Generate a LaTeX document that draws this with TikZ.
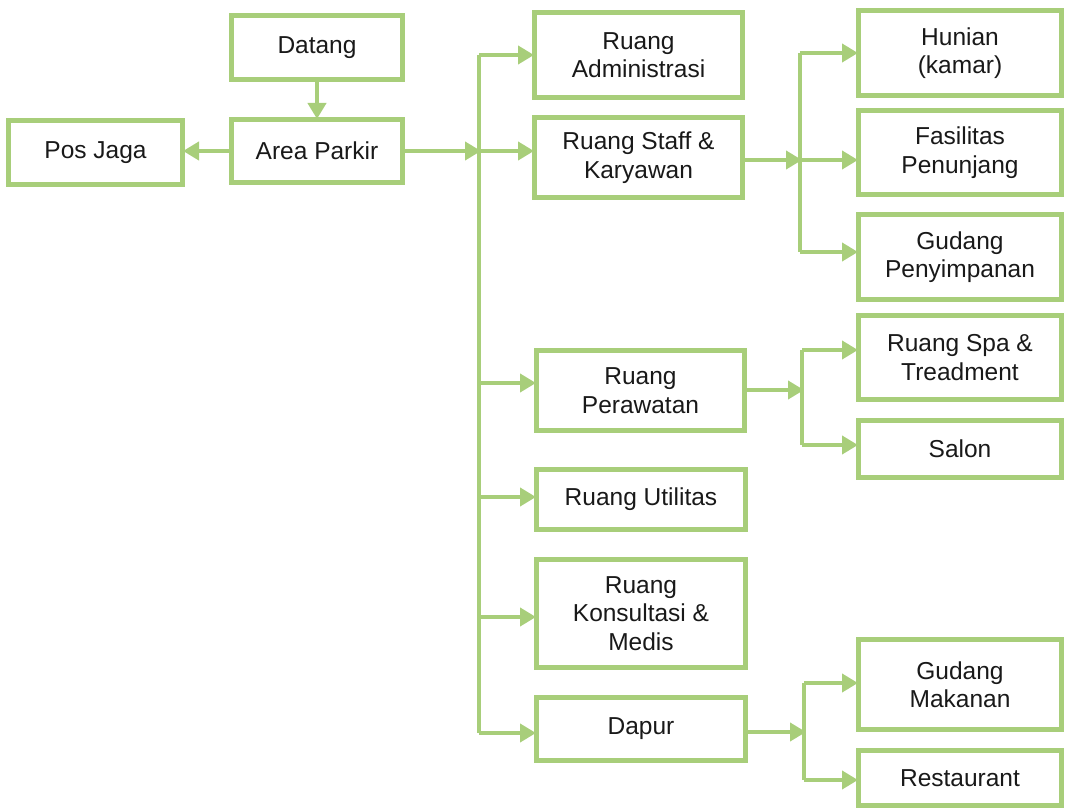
\documentclass[tikz,border=0pt]{standalone}
\usepackage{fontspec}
\setmainfont{Liberation Sans}
\usetikzlibrary{arrows.meta}
\definecolor{leaf}{RGB}{168,206,122}
\definecolor{ink}{RGB}{25,25,25}
\begin{document}
\begin{tikzpicture}[x=1pt,y=-1pt,
  box/.style={draw=leaf, line width=5pt, fill=white, align=center, inner sep=0pt,
    text=ink, font=\fontsize{24.5}{28.5}\selectfont},
  link/.style={draw=leaf, line width=4.5pt},
  arr/.style={link, -{Triangle[length=16pt,width=18pt]}, shorten >=-2pt}]
\useasboundingbox (0,0) rectangle (1066,810);

% left column
\node[box, minimum width=171pt, minimum height=64pt] (datang) at (317,47.5) {Datang};
\node[box, minimum width=171pt, minimum height=63pt] (parkir) at (317,151) {Area Parkir};
\node[box, minimum width=174pt, minimum height=64pt] (pos) at (95.5,152.5) {Pos Jaga};

% middle column
\node[box, minimum width=208pt, minimum height=85pt] (admin) at (638.5,55) {Ruang\\Administrasi};
\node[box, minimum width=208pt, minimum height=80pt] (staff) at (638.5,157.5) {Ruang Staff \&\\Karyawan};
\node[box, minimum width=208pt, minimum height=80pt] (rawat) at (640.5,390.5) {Ruang\\Perawatan};
\node[box, minimum width=209pt, minimum height=60pt] (util) at (641,499.5) {Ruang Utilitas};
\node[box, minimum width=209pt, minimum height=108pt] (konsul) at (641,613.5) {Ruang\\Konsultasi \&\\Medis};
\node[box, minimum width=209pt, minimum height=63pt] (dapur) at (641,729) {Dapur};

% right column
\node[box, minimum width=203pt, minimum height=85pt] (hunian) at (960,53) {Hunian\\(kamar)};
\node[box, minimum width=203pt, minimum height=84pt] (fasil) at (960,152.5) {Fasilitas\\Penunjang};
\node[box, minimum width=203pt, minimum height=85pt] (gudangp) at (960,257) {Gudang\\Penyimpanan};
\node[box, minimum width=203pt, minimum height=84pt] (spa) at (960,357.5) {Ruang Spa \&\\Treadment};
\node[box, minimum width=203pt, minimum height=57pt] (salon) at (960,449) {Salon};
\node[box, minimum width=203pt, minimum height=90pt] (gudangm) at (960,684.5) {Gudang\\Makanan};
\node[box, minimum width=203pt, minimum height=55pt] (resto) at (960,778) {Restaurant};

% junction points
\coordinate (trunkA) at (479,55);
\coordinate (trunkB) at (479,151);
\coordinate (trunkC) at (479,383);
\coordinate (trunkD) at (479,497);
\coordinate (trunkE) at (479,617);
\coordinate (trunkF) at (479,733);
\coordinate (subA1) at (800,53);
\coordinate (subA2) at (800,160);
\coordinate (subA3) at (800,252);
\coordinate (subB1) at (802,350);
\coordinate (subB2) at (802,390);
\coordinate (subB3) at (802,445);
\coordinate (subC1) at (804,683);
\coordinate (subC2) at (804,732);
\coordinate (subC3) at (804,780);

% vertical distribution lines
\draw[link] (trunkA) -- (trunkF);
\draw[link] (subA1) -- (subA3);
\draw[link] (subB1) -- (subB3);
\draw[link] (subC1) -- (subC3);

\draw[arr] (datang.south) -- (parkir.north);
\draw[arr] (parkir.west) -- (parkir.west -| pos.east);
\draw[arr] (parkir.east) -- (trunkB);

\draw[arr] (trunkA) -- (trunkA -| admin.west);
\draw[arr] (trunkB) -- (trunkB -| staff.west);
\draw[arr] (trunkC) -- (trunkC -| rawat.west);
\draw[arr] (trunkD) -- (trunkD -| util.west);
\draw[arr] (trunkE) -- (trunkE -| konsul.west);
\draw[arr] (trunkF) -- (trunkF -| dapur.west);

\draw[arr] (subA2 -| staff.east) -- (subA2);
\draw[arr] (subA1) -- (subA1 -| hunian.west);
\draw[arr] (subA2) -- (subA2 -| fasil.west);
\draw[arr] (subA3) -- (subA3 -| gudangp.west);

\draw[arr] (subB2 -| rawat.east) -- (subB2);
\draw[arr] (subB1) -- (subB1 -| spa.west);
\draw[arr] (subB3) -- (subB3 -| salon.west);

\draw[arr] (subC2 -| dapur.east) -- (subC2);
\draw[arr] (subC1) -- (subC1 -| gudangm.west);
\draw[arr] (subC3) -- (subC3 -| resto.west);
\end{tikzpicture}
\end{document}
